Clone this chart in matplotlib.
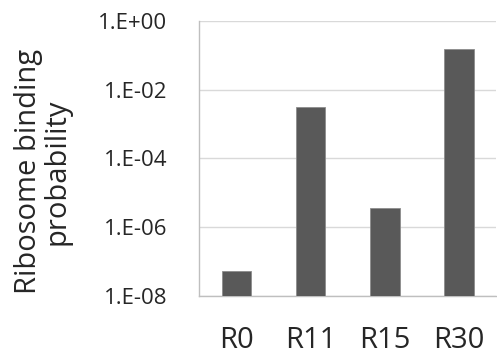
import numpy as np
import matplotlib.pyplot as plt

plt.rcParams['font.family'] = ['Open Sans', 'DejaVu Sans']

# ── Data ──────────────────────────────────────────────────────────────────────
constructs  = ["R0", "R11", "R15", "R30"]
binding_p   = [5.4e-8, 3.1e-3, 3.5e-6, 0.15]
ytick_vals  = [1e-8, 1e-6, 1e-4, 1e-2, 1e0]
ytick_text  = ["1.E-08", "1.E-06", "1.E-04", "1.E-02", "1.E+00"]

# ── Figure ────────────────────────────────────────────────────────────────────
fig = plt.figure(figsize=(4.97, 3.58), dpi=100)
ax = fig.add_axes([0.401, 0.174, 0.597, 0.767])

x = np.arange(len(constructs))
ax.bar(x, binding_p, width=0.4, color="#595959", edgecolor="#8c8c8c",
       linewidth=0.6, zorder=3)

ax.set_yscale("log")
ax.set_ylim(1e-8, 1e0)
ax.set_xlim(-0.5, len(constructs) - 0.5)
ax.set_yticks(ytick_vals)
ax.set_yticklabels(ytick_text)
ax.minorticks_off()
ax.set_xticks(x)
ax.set_xticklabels(constructs)

ax.tick_params(axis="y", length=0, pad=23, labelsize=16, labelcolor="#262626")
ax.tick_params(axis="x", length=0, pad=22, labelsize=21, labelcolor="#262626")

ax.grid(axis="y", color="#d9d9d9", linewidth=1.0, zorder=0)
for side in ["top", "right"]:
    ax.spines[side].set_visible(False)
for side in ["left", "bottom"]:
    ax.spines[side].set_color("#bfbfbf")
    ax.spines[side].set_linewidth(1.0)

fig.text(0.086, 0.52, "Ribosome binding\nprobability", rotation=90,
         ha="center", va="center", fontsize=21, color="#262626",
         multialignment="center", linespacing=1.0)

fig.savefig("out.png", dpi=100)
